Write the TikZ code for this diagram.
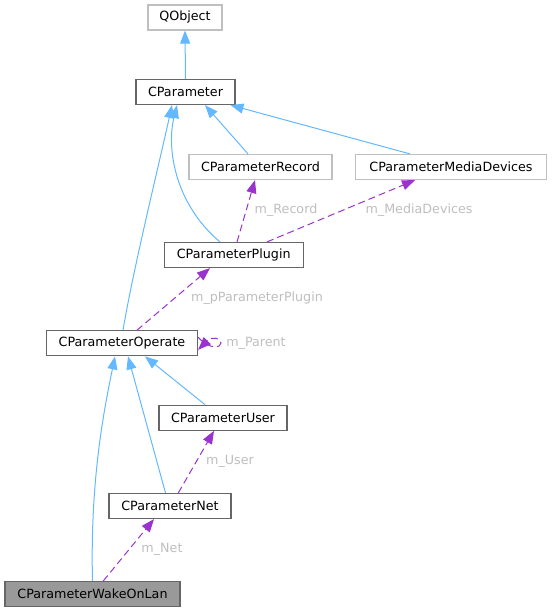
\documentclass[tikz,border=0pt]{standalone}
\usepackage{fontspec}
\setmainfont{DejaVu Sans}
\usetikzlibrary{arrows.meta}
\definecolor{inhblue}{HTML}{63B8FF}
\definecolor{usepurple}{HTML}{9A32CD}
\definecolor{lblgrey}{HTML}{BEBEBE}
\definecolor{docborder}{HTML}{666666}
\definecolor{extborder}{HTML}{BFBFBF}
\definecolor{selfill}{HTML}{999999}
\begin{document}
\begin{tikzpicture}[x=1pt,y=-1pt,
  every node/.style={font=\fontsize{12.7pt}{14pt}\selectfont},
  cls/.style={draw=docborder,line width=1.2pt,fill=white,minimum height=25pt,inner sep=0pt},
  extcls/.style={draw=extborder,line width=1.2pt,fill=white,minimum height=25pt,inner sep=0pt},
  selcls/.style={draw=docborder,line width=1.2pt,fill=selfill,minimum height=25pt,inner sep=0pt},
  inh/.style={draw=inhblue,line width=1pt,-{Triangle[length=13pt,width=10pt]}},
  use/.style={draw=usepurple,line width=1pt,dash pattern=on 7pt off 4pt,-{Triangle[length=13pt,width=10pt]}},
  lbl/.style={text=lblgrey,inner sep=1pt}]
\useasboundingbox (0,0) rectangle (552,612);
\node[extcls,minimum width=74pt] (qo) at (185,17.5) {QObject};
\node[cls,minimum width=99pt] (cp) at (185.5,92) {CParameter};
\node[extcls,minimum width=143pt] (rec) at (260.5,167) {CParameterRecord};
\node[extcls,minimum width=191pt] (med) at (451,167) {CParameterMediaDevices};
\node[cls,minimum width=139pt] (plg) at (233.7,255) {CParameterPlugin};
\node[cls,minimum width=151pt] (op) at (122,343.3) {CParameterOperate};
\node[cls,minimum width=128pt] (usr) at (223,417.7) {CParameterUser};
\node[cls,minimum width=122pt] (net) at (170,506) {CParameterNet};
\node[selcls,minimum width=175pt] (wol) at (92.5,594) {CParameterWakeOnLan};
% inheritance
\draw[inh] (cp.north) -- (qo.south);
\draw[inh] ([xshift=-12.5pt]rec.north) -- ([xshift=19.5pt]cp.south);
\draw[inh] ([xshift=-41pt]med.north) -- ([xshift=45pt]cp.south);
\draw[inh] ([xshift=-13.7pt]plg.north) .. controls (176,205) and (166,150) .. ([xshift=-8.5pt]cp.south);
\draw[inh] ([xshift=1pt]op.north) .. controls (133,270) and (160,160) .. ([xshift=-13.5pt]cp.south);
\draw[inh] ([xshift=-18pt]usr.north) -- ([xshift=23pt]op.south);
\draw[inh] ([xshift=-4.5pt]net.north) -- ([xshift=6pt]op.south);
\draw[inh] ([xshift=0pt]wol.north) .. controls (90,480) and (104,410) .. ([xshift=-7pt]op.south);
% usage
\draw[use] ([xshift=3.3pt]plg.north) -- ([xshift=-5.5pt]rec.south);
\node[lbl] (lrec) at (286,210) {m\_Record};
\draw[use] ([xshift=33.3pt]plg.north) -- ([xshift=-36pt]med.south);
\node[lbl] (lmed) at (419,210) {m\_MediaDevices};
\draw[use] ([xshift=15pt]op.north) -- ([xshift=-23.7pt]plg.south);
\node[lbl] (lplg) at (257,298) {m\_pParameterPlugin};
\draw[use] ([yshift=6pt]op.east) .. controls (210,350) and (221,348) .. (221,343) .. controls (221,338) and (212,336) .. ([yshift=-6.5pt]op.east);
\node[lbl] (lpar) at (256,343) {m\_Parent};
\draw[use] ([xshift=8.3pt]net.north) -- ([xshift=-9pt]usr.south);
\node[lbl] (lusr) at (230,461) {m\_User};
\draw[use] ([xshift=10.8pt]wol.north) -- ([xshift=-16pt]net.south);
\node[lbl] (lnet) at (162,549) {m\_Net};
\end{tikzpicture}
\end{document}
